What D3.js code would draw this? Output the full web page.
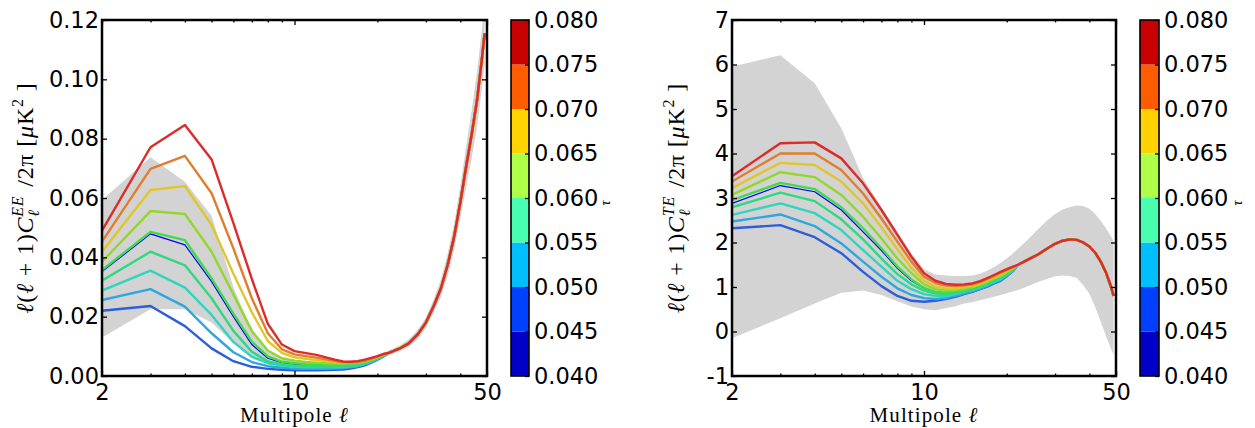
<!DOCTYPE html>
<html><head><meta charset="utf-8">
<script src="https://cdn.jsdelivr.net/npm/d3@7"></script>
<style>body{margin:0;background:#fff} svg{display:block}</style>
</head><body>
<svg id="c" width="1255" height="428"></svg>
<script>
// ---------- data ----------
const ellHead = [2,3,4,5,6,7,8,9,10,11,12,13,14,15,16,17,18,19,20,21];
const ellTail = [22,24,26,28,30,32,34,36,38,40,42,44,46,48,49];
const taus = [0.040,0.045,0.050,0.055,0.060,0.065,0.070,0.075,0.080];
const lineColors = ["#2c5ddb","#2ea6df","#2fd5bc","#2fd882","#40dc46","#93d72d","#e0c62b","#e17d2c","#dd2b2b"];
const cbEdges = [0.040,0.045,0.050,0.055,0.060,0.065,0.070,0.075,0.080];
const cbColors = ["#0000c8","#0040ff","#00bfff","#48ffaf","#afff48","#ffd200","#ff5c00","#c80000"];
const xMajor = [2,10,50];
const xMinor = [3,4,5,6,7,8,9,20,30,40];
const eeTicks = [0,0.02,0.04,0.06,0.08,0.10,0.12];
const teTicks = [-1,0,1,2,3,4,5,6,7];

// EE spectra, ell = 2..21
const ee040 = [0.0220,0.0236,0.0168,0.0093,0.0050,0.0031,0.0024,0.0021,0.0019,0.0019,0.0019,0.0020,0.0021,0.0022,0.0025,0.0030,0.0036,0.0045,0.0055,0.0066];
const ee045 = [0.0256,0.0293,0.0234,0.0144,0.0080,0.0047,0.0033,0.0028,0.0025,0.0024,0.0024,0.0024,0.0025,0.0026,0.0029,0.0033,0.0039,0.0047,0.0057,0.0067];
const ee050 = [0.0288,0.0355,0.0298,0.0206,0.0115,0.0065,0.0043,0.0035,0.0031,0.0029,0.0029,0.0029,0.0029,0.0030,0.0032,0.0035,0.0041,0.0049,0.0058,0.0068];
const ee055 = [0.0321,0.0419,0.0373,0.0262,0.0152,0.0082,0.0049,0.0039,0.0035,0.0034,0.0033,0.0033,0.0033,0.0034,0.0036,0.0039,0.0044,0.0051,0.0060,0.0069];
const ee060 = [0.0357,0.0486,0.0458,0.0329,0.0210,0.0116,0.0066,0.0048,0.0043,0.0040,0.0039,0.0038,0.0038,0.0038,0.0040,0.0043,0.0047,0.0053,0.0061,0.0070];
const ee065 = [0.0385,0.0556,0.0546,0.0419,0.0275,0.0152,0.0086,0.0060,0.0052,0.0047,0.0045,0.0043,0.0042,0.0042,0.0043,0.0045,0.0049,0.0055,0.0063,0.0071];
const ee070 = [0.0419,0.0627,0.0640,0.0509,0.0345,0.0215,0.0118,0.0078,0.0063,0.0058,0.0054,0.0050,0.0047,0.0045,0.0045,0.0047,0.0051,0.0057,0.0064,0.0072];
const ee075 = [0.0453,0.0698,0.0742,0.0616,0.0430,0.0262,0.0144,0.0090,0.0073,0.0067,0.0062,0.0056,0.0051,0.0047,0.0046,0.0048,0.0052,0.0058,0.0065,0.0073];
const ee080 = [0.0490,0.0771,0.0846,0.0730,0.0515,0.0327,0.0176,0.0106,0.0084,0.0077,0.0071,0.0063,0.0055,0.0049,0.0048,0.0050,0.0055,0.0061,0.0067,0.0074];
const eeFid = [0.0352,0.0479,0.0442,0.0318,0.0200,0.0106,0.0060,0.0045,0.0040,0.0038,0.0037,0.0037,0.0037,0.0037,0.0039,0.0042,0.0046,0.0053,0.0061,0.0070];
const eeTail = [0.0078,0.0092,0.0110,0.0140,0.0180,0.0235,0.0295,0.0375,0.0470,0.0585,0.0706,0.0815,0.0930,0.1075,0.1155];
const eeBandHi = [0.0593,0.0737,0.0655,0.0540,0.0300,0.0150,0.0085,0.0060,0.0052,0.0049,0.0048,0.0048,0.0049,0.0050,0.0052,0.0055,0.0059,0.0064,0.0071,0.0078,
                  0.0086,0.0102,0.0123,0.0155,0.0197,0.0257,0.0325,0.0412,0.0515,0.0640,0.0775,0.0895,0.1025,0.1175,0.1265];
const eeBandLo = [0.0130,0.0225,0.0225,0.0180,0.0110,0.0065,0.0042,0.0032,0.0028,0.0027,0.0027,0.0027,0.0028,0.0029,0.0030,0.0033,0.0038,0.0044,0.0050,0.0060,
                  0.0070,0.0083,0.0098,0.0125,0.0163,0.0213,0.0266,0.0338,0.0425,0.0530,0.0637,0.0735,0.0840,0.0975,0.1045];

// TE spectra, ell = 2..21
const te040 = [2.32,2.39,2.12,1.76,1.34,1.02,0.80,0.69,0.67,0.69,0.73,0.78,0.84,0.89,0.95,1.01,1.08,1.14,1.24,1.35];
const te045 = [2.47,2.63,2.37,1.98,1.57,1.23,0.97,0.82,0.75,0.73,0.75,0.80,0.85,0.90,0.96,1.02,1.09,1.15,1.25,1.36];
const te050 = [2.62,2.88,2.66,2.28,1.83,1.46,1.14,0.95,0.84,0.80,0.80,0.84,0.89,0.93,0.99,1.05,1.12,1.18,1.27,1.37];
const te055 = [2.79,3.12,2.93,2.52,2.07,1.64,1.29,1.06,0.92,0.85,0.84,0.87,0.91,0.95,1.01,1.07,1.14,1.21,1.29,1.38];
const te060 = [2.95,3.34,3.20,2.79,2.32,1.87,1.46,1.17,0.98,0.89,0.88,0.90,0.94,0.97,1.03,1.09,1.17,1.23,1.31,1.39];
const te065 = [3.07,3.58,3.47,3.07,2.58,2.09,1.64,1.31,1.06,0.95,0.92,0.93,0.96,1.00,1.05,1.12,1.19,1.25,1.33,1.41];
const te070 = [3.22,3.79,3.74,3.37,2.88,2.34,1.85,1.43,1.14,1.01,0.97,0.97,1.00,1.03,1.08,1.15,1.22,1.28,1.36,1.42];
const te075 = [3.37,4.00,4.00,3.63,3.10,2.54,2.02,1.57,1.23,1.09,1.03,1.02,1.03,1.06,1.11,1.18,1.25,1.32,1.38,1.44];
const te080 = [3.49,4.23,4.25,3.89,3.33,2.73,2.17,1.68,1.31,1.14,1.07,1.05,1.06,1.08,1.13,1.20,1.27,1.34,1.40,1.45];
const teFid = [2.88,3.28,3.14,2.73,2.24,1.82,1.42,1.14,0.97,0.88,0.87,0.89,0.93,0.97,1.03,1.09,1.16,1.22,1.31,1.39];
const teTail = [1.50,1.62,1.73,1.86,1.97,2.04,2.07,2.06,2.00,1.91,1.77,1.57,1.32,1.00,0.80];
const teBandHi = [5.95,6.21,5.58,4.57,3.45,2.80,2.25,1.76,1.40,1.28,1.26,1.25,1.25,1.26,1.30,1.37,1.45,1.54,1.64,1.75,
                  1.86,2.08,2.30,2.49,2.64,2.74,2.80,2.83,2.82,2.76,2.64,2.49,2.32,2.13,2.03];
const teBandLo = [-0.15,0.30,0.63,0.87,0.92,0.82,0.68,0.56,0.50,0.48,0.52,0.57,0.63,0.66,0.70,0.74,0.78,0.82,0.86,0.90,
                  0.93,1.02,1.11,1.18,1.24,1.26,1.25,1.20,1.04,0.85,0.55,0.22,-0.10,-0.40,-0.52];

// ---------- drawing ----------
const svg = d3.select("#c");
const ellAll = ellHead.concat(ellTail);
const TOP = 20, BOT = 376;
const tickFont = "'DejaVu Sans', sans-serif";
const serif = "'Liberation Serif', 'DejaVu Serif', serif";

function panel(cfg) {
  const g = svg.append("g");
  const x = d3.scaleLog().domain([2, 50]).range([cfg.x0, cfg.x1]);
  const y = d3.scaleLinear().domain(cfg.yDomain).range([BOT, TOP]);

  const clipId = "clip" + cfg.id;
  svg.append("clipPath").attr("id", clipId).append("rect")
    .attr("x", cfg.x0).attr("y", TOP).attr("width", cfg.x1 - cfg.x0).attr("height", BOT - TOP);
  const plot = g.append("g").attr("clip-path", `url(#${clipId})`);

  const bandData = ellAll.map((l, i) => ({l, hi: cfg.bandHi[i], lo: cfg.bandLo[i]}));
  plot.append("path").datum(bandData)
    .attr("fill", "#d3d3d3")
    .attr("d", d3.area().x(d => x(d.l)).y0(d => y(d.lo)).y1(d => y(d.hi)));

  const line = d3.line().x(d => x(d.l)).y(d => y(d.v));
  const mk = head => ellAll.map((l, i) => ({l, v: i < head.length ? head[i] : cfg.tail[i - head.length]}));

  plot.append("path").datum(mk(cfg.fid))
    .attr("fill", "none").attr("stroke", "#0000ff").attr("stroke-width", 1.2)
    .attr("stroke-linejoin", "round").attr("d", line);

  cfg.series.forEach((s, k) => {
    plot.append("path").datum(mk(s))
      .attr("fill", "none").attr("stroke", lineColors[k]).attr("stroke-width", 2.4)
      .attr("stroke-linejoin", "round").attr("stroke-linecap", "butt").attr("d", line);
  });

  // axes
  const styleAxis = sel => {
    sel.select(".domain").remove();
    sel.selectAll(".tick line").attr("stroke", "#000").attr("stroke-width", 1.3);
    sel.selectAll(".tick text").attr("font-family", tickFont).attr("font-size", 22.5).attr("fill", "#000");
  };
  g.append("g").attr("transform", `translate(0,${BOT})`)
    .call(d3.axisBottom(x).tickValues(xMajor).tickFormat(d3.format("d")).tickSizeInner(-5).tickSizeOuter(0).tickPadding(8))
    .call(styleAxis);
  g.append("g").attr("transform", `translate(0,${BOT})`)
    .call(d3.axisBottom(x).tickValues(xMinor).tickFormat("").tickSizeInner(-2.5).tickSizeOuter(0))
    .call(styleAxis);
  g.append("g").attr("transform", `translate(0,${TOP})`)
    .call(d3.axisTop(x).tickValues(xMajor).tickFormat("").tickSizeInner(-5).tickSizeOuter(0))
    .call(styleAxis);
  g.append("g").attr("transform", `translate(0,${TOP})`)
    .call(d3.axisTop(x).tickValues(xMinor).tickFormat("").tickSizeInner(-2.5).tickSizeOuter(0))
    .call(styleAxis);
  g.append("g").attr("transform", `translate(${cfg.x0},0)`)
    .call(d3.axisLeft(y).tickValues(cfg.yTicks).tickFormat(cfg.yFormat).tickSizeInner(-5).tickSizeOuter(0).tickPadding(3))
    .call(styleAxis);
  g.append("g").attr("transform", `translate(${cfg.x1},0)`)
    .call(d3.axisRight(y).tickValues(cfg.yTicks).tickFormat("").tickSizeInner(-5).tickSizeOuter(0))
    .call(styleAxis);

  g.append("rect").attr("x", cfg.x0).attr("y", TOP).attr("width", cfg.x1 - cfg.x0).attr("height", BOT - TOP)
    .attr("fill", "none").attr("stroke", "#000").attr("stroke-width", 2.5);

  // x label
  const xl = g.append("text").attr("x", (cfg.x0 + cfg.x1) / 2).attr("y", 422)
    .attr("text-anchor", "middle").attr("font-family", serif).attr("font-size", 21)
    .attr("letter-spacing", 1.1).attr("fill", "#000");
  xl.append("tspan").text("Multipole ");
  xl.append("tspan").attr("font-style", "italic").text("ℓ");

  // y label
  const yl = g.append("text").attr("transform", `translate(${cfg.ylx},198) rotate(-90)`)
    .attr("text-anchor", "middle").attr("font-family", serif).attr("font-size", 24)
    .attr("letter-spacing", 0.8).attr("fill", "#000");
  yl.append("tspan").attr("font-style", "italic").text("ℓ");
  yl.append("tspan").text("(");
  yl.append("tspan").attr("font-style", "italic").text("ℓ");
  yl.append("tspan").text(" + 1)");
  yl.append("tspan").attr("font-style", "italic").text("C");
  const sup = yl.append("tspan").attr("font-style", "italic").attr("font-size", 16).attr("dy", -10).text(cfg.sup);
  const sub = yl.append("tspan").attr("font-style", "italic").attr("font-size", 16).attr("dy", 16).text("ℓ");
  const rest = yl.append("tspan").attr("dy", -6).text(" /2π [");
  yl.append("tspan").attr("font-style", "italic").text("μ");
  yl.append("tspan").text("K");
  yl.append("tspan").attr("font-size", 16).attr("dy", -10).text("2");
  yl.append("tspan").attr("dy", 10).text(" ]");
  const supW = sup.node().getComputedTextLength();
  const subW = sub.node().getComputedTextLength();
  sub.attr("dx", -supW);
  rest.attr("dx", supW - subW + 2);

  // colorbar
  const yc = d3.scaleLinear().domain([cbEdges[0], cbEdges[cbEdges.length - 1]]).range([BOT, TOP]);
  const cb = svg.append("g");
  cb.selectAll("rect.bin").data(cbColors).join("rect").attr("class", "bin")
    .attr("x", cfg.cb0).attr("width", cfg.cb1 - cfg.cb0)
    .attr("y", (c, i) => yc(cbEdges[i + 1])).attr("height", (c, i) => yc(cbEdges[i]) - yc(cbEdges[i + 1]))
    .attr("fill", c => c);
  cb.append("g").attr("transform", `translate(${cfg.cb1},0)`)
    .call(d3.axisRight(yc).tickValues(cbEdges).tickFormat(d3.format(".3f")).tickSizeInner(-4).tickSizeOuter(0).tickPadding(5))
    .call(styleAxis);
  cb.append("rect").attr("x", cfg.cb0).attr("y", TOP).attr("width", cfg.cb1 - cfg.cb0).attr("height", BOT - TOP)
    .attr("fill", "none").attr("stroke", "#000").attr("stroke-width", 1.6);
  cb.append("text").attr("transform", `translate(${cfg.taux},203) rotate(-90)`)
    .attr("text-anchor", "middle").attr("font-family", serif).attr("font-style", "italic")
    .attr("font-size", 14).attr("fill", "#000").text("τ");
}

panel({id: "ee", x0: 102, x1: 487, yDomain: [0, 0.12], yTicks: eeTicks, yFormat: d3.format(".2f"),
  series: [ee040, ee045, ee050, ee055, ee060, ee065, ee070, ee075, ee080], fid: eeFid, tail: eeTail,
  bandHi: eeBandHi, bandLo: eeBandLo, sup: "EE", ylx: 33, cb0: 511, cb1: 529, taux: 610});

panel({id: "te", x0: 732, x1: 1116, yDomain: [-1, 7], yTicks: teTicks, yFormat: v => String(v),
  series: [te040, te045, te050, te055, te060, te065, te070, te075, te080], fid: teFid, tail: teTail,
  bandHi: teBandHi, bandLo: teBandLo, sup: "TE", ylx: 684, cb0: 1140, cb1: 1159, taux: 1242});
</script>
</body></html>
